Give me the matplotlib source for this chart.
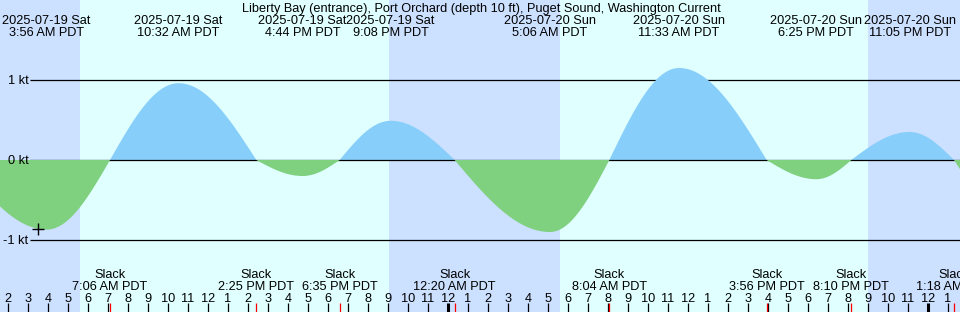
import matplotlib
matplotlib.use("Agg")
import matplotlib.pyplot as plt
import numpy as np

plt.rcParams['font.family'] = ['Liberation Sans', 'DejaVu Sans']

title = "Liberty Bay (entrance), Port Orchard (depth 10 ft), Puget Sound, Washington Current"

# all times in hours since 2025-07-19 00:00 PDT
view_start = 1.6
view_end = 49.6

night_starts = [-5.0, 21.05, 45.02]
night_ends = [5.6, 29.6, 55.0]

extreme_hours = [3.933, 10.533, 16.733, 21.133, 29.1, 35.55, 42.417, 47.083]
extreme_kt = [-0.87, 0.96, -0.20, 0.49, -0.90, 1.15, -0.24, 0.35]
extreme_dates = ["2025-07-19 Sat"] * 4 + ["2025-07-20 Sun"] * 4
extreme_times = ["3:56 AM PDT", "10:32 AM PDT", "4:44 PM PDT", "9:08 PM PDT",
                 "5:06 AM PDT", "11:33 AM PDT", "6:25 PM PDT", "11:05 PM PDT"]

slack_hours = [7.1, 14.417, 18.583, 24.333, 32.067, 39.933, 44.167, 49.3]
slack_times = ["7:06 AM PDT", "2:25 PM PDT", "6:35 PM PDT", "12:20 AM PDT",
               "8:04 AM PDT", "3:56 PM PDT", "8:10 PM PDT", "1:18 AM PDT"]

# slack / ebb maximum just beyond the edges (estimated)
prev_slack_hour = -0.42
next_extreme_hour = 52.6
next_extreme_kt = -0.80

marker_hour = 3.5
marker_kt = -0.86

kt_levels = [1, 0, -1]
kt_labels = ["1 kt", "0 kt", "-1 kt"]

night_color = "#CCE0FF"
day_color = "#E0FFFF"
flood_color = "#87CEFA"
ebb_color = "#7FD07F"

FS = 9.2

# ---------------------------------------------------------------
fig = plt.figure(figsize=(9.6, 3.12), dpi=100)
ax = fig.add_axes([0, 0, 1, 1])
ax.set_xlim(view_start, view_end)
YTOP, YBOT = 2.0, -1.9
ax.set_ylim(YBOT, YTOP)
ax.axis('off')
fig.patch.set_facecolor(day_color)
ax.set_facecolor(day_color)

def py(p):  # pixel row from top -> axis value
    return YTOP - p / 80.0

def px(p):  # pixel column -> hour
    return view_start + p / 20.0

for s, e in zip(night_starts, night_ends):
    ax.axvspan(s, e, color=night_color, lw=0, zorder=0)

# event sequence (slacks at 0 alternate with extremes)
ev_map = {h: 0.0 for h in [prev_slack_hour] + slack_hours}
ev_map.update(dict(zip(extreme_hours, extreme_kt)))
ev_map[next_extreme_hour] = next_extreme_kt
ev_t = np.array(sorted(ev_map))
ev_v = np.array([ev_map[h] for h in ev_t])

t = np.linspace(view_start - 0.2, view_end + 0.2, 4000)
idx = np.clip(np.searchsorted(ev_t, t) - 1, 0, len(ev_t) - 2)
f = (t - ev_t[idx]) / (ev_t[idx + 1] - ev_t[idx])
v = ev_v[idx] * np.cos(np.pi / 2 * f) + ev_v[idx + 1] * np.sin(np.pi / 2 * f)

# level lines
for lvl, lab in zip(kt_levels, kt_labels):
    z = 3.5 if lvl == 0 else 2
    ax.plot([px(30), view_end + 1], [lvl, lvl], color='black', lw=0.9, zorder=z,
            solid_capstyle='butt')
    ax.text(px(28.5), lvl - 4.3 / 80, lab, ha='right', va='baseline', fontsize=FS, zorder=5)

ax.fill_between(t, 0, v, where=v >= 0, color=flood_color, lw=0, zorder=3, interpolate=True)
ax.fill_between(t, 0, v, where=v <= 0, color=ebb_color, lw=0, zorder=4, interpolate=True)

ax.plot([marker_hour], [marker_kt], marker='+', color='black', ms=8, mew=1.0, zorder=6)

# top labels
ax.text(px(481), py(12), title, ha='center', va='baseline', fontsize=FS)
for h, d, tm in zip(extreme_hours, extreme_dates, extreme_times):
    ax.text(h, py(24), d, ha='center', va='baseline', fontsize=FS, zorder=6)
    ax.text(h, py(36), tm, ha='center', va='baseline', fontsize=FS, zorder=6)

# slack labels
for h, tm in zip(slack_hours, slack_times):
    ax.text(h, py(278.5), "Slack", ha='center', va='baseline', fontsize=FS, zorder=6)
    ax.text(h, py(289.5), tm, ha='center', va='baseline', fontsize=FS, zorder=6)
    ax.plot([h, h], [py(303), py(313)], color='red', lw=0.9, zorder=5,
            solid_capstyle='butt')

# hour ticks
for hr in range(int(np.ceil(view_start)), int(view_end) + 1):
    lab = str((hr % 12) or 12)
    ax.text(hr, py(302), lab, ha='center', va='baseline', fontsize=FS, zorder=6)
    lw = 2.2 if hr % 24 == 0 else 0.9
    ax.plot([hr, hr], [py(303), py(313)], color='black', lw=lw, zorder=4,
            solid_capstyle='butt')

fig.savefig("out.png", dpi=100, facecolor=fig.get_facecolor())
